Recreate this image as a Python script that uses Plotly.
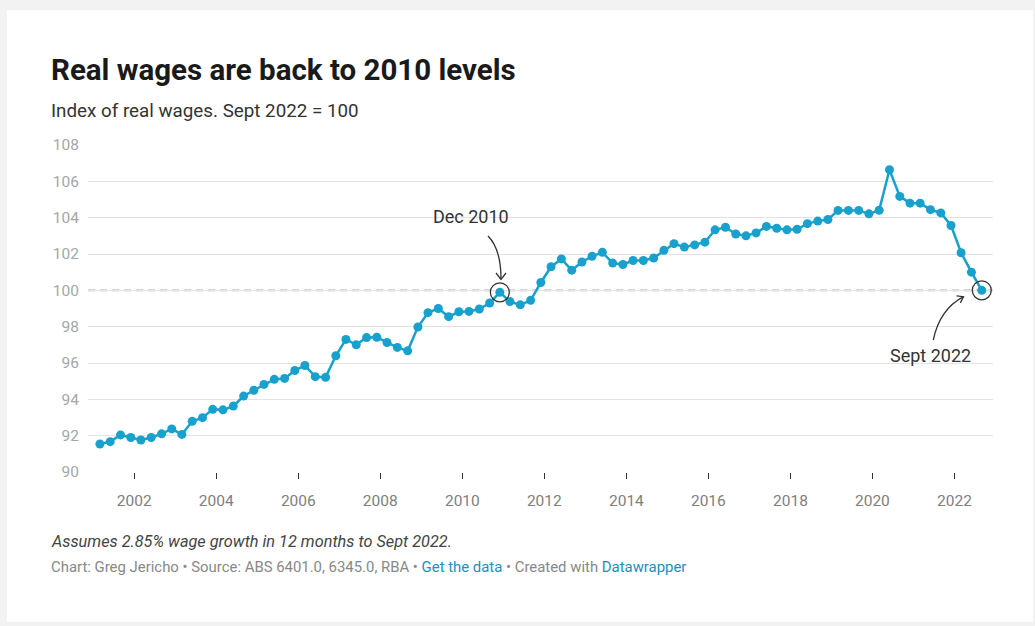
import pandas as pd
import plotly.graph_objects as go

# ---- data ----
quarters = pd.date_range("2001-03-01", "2022-09-01", freq="3MS")  # quarterly, Mar 2001 - Sep 2022
real_wage_index = [
    91.54, 91.67, 92.04, 91.90, 91.76, 91.90, 92.10, 92.37, 92.07, 92.79,
    92.99, 93.45, 93.42, 93.63, 94.18, 94.50, 94.82, 95.10, 95.15, 95.59,
    95.86, 95.25, 95.21, 96.40, 97.30, 97.00, 97.40, 97.42, 97.13, 96.86,
    96.67, 97.98, 98.77, 99.00, 98.55, 98.82, 98.84, 98.97, 99.30, 99.89,
    99.38, 99.20, 99.45, 100.43, 101.30, 101.73, 101.11, 101.56, 101.87, 102.09,
    101.50, 101.42, 101.64, 101.64, 101.78, 102.20, 102.57, 102.38, 102.50, 102.65,
    103.33, 103.47, 103.10, 103.00, 103.16, 103.52, 103.42, 103.33, 103.36, 103.67,
    103.81, 103.90, 104.40, 104.40, 104.40, 104.21, 104.41, 106.64, 105.17, 104.80,
    104.80, 104.44, 104.26, 103.57, 102.07, 101.00, 100.00,
]
highlight_labels = ["Dec 2010", "Sept 2022"]
highlight_idx = [39, 86]
y_ticks = [90, 92, 94, 96, 98, 100, 102, 104, 106, 108]
baseline_value = 100

title = "Real wages are back to 2010 levels"
subtitle = "Index of real wages. Sept 2022 = 100"
note = "Assumes 2.85% wage growth in 12 months to Sept 2022."

# ---- layout geometry (pixels) ----
W, H = 1035, 626
PL, PR, PT, PB = 88, 993, 145, 472  # plot area left/right/top/bottom in px


def px(x, y):
    return (x - PL) / (PR - PL), (PB - y) / (PB - PT)


BLUE = "#18a1cd"
FONT = "Roboto"

fig = go.Figure()

fig.add_trace(go.Scatter(
    x=quarters, y=real_wage_index, mode="lines+markers",
    line=dict(color=BLUE, width=2.5),
    marker=dict(color=BLUE, size=9),
    hoverinfo="skip", showlegend=False,
))

# rings around highlighted points
fig.add_trace(go.Scatter(
    x=[quarters[i] for i in highlight_idx],
    y=[real_wage_index[i] for i in highlight_idx],
    mode="markers",
    marker=dict(symbol="circle-open", size=19, color="#333333", line=dict(width=1.3, color="#333333")),
    hoverinfo="skip", showlegend=False,
))

shapes = []
# white card
cx0, cy0 = px(7, 622)
cx1, cy1 = px(1033, 10)
shapes.append(dict(type="rect", xref="paper", yref="paper", x0=cx0, y0=cy0, x1=cx1, y1=cy1,
                   fillcolor="white", line=dict(width=0), layer="below"))
# dashed reference line
shapes.append(dict(type="line", xref="paper", yref="y", x0=0, x1=1, y0=baseline_value, y1=baseline_value,
                   line=dict(color="#b0b0b0", width=1.6, dash="7px,5px"), layer="below"))


def path_from(points, cmd):
    out = []
    for c, pts in zip(cmd, points):
        coords = " ".join(f"{px(x, y)[0]:.5f},{px(x, y)[1]:.5f}" for x, y in pts)
        out.append(f"{c} {coords}")
    return " ".join(out)


arrow_style = dict(color="#333333", width=1.3)
# Dec 2010 arrow
shapes.append(dict(type="path", xref="paper", yref="paper",
                   path=path_from([[(488, 236)], [(496, 244), (501, 258), (501, 279)]], ["M", "C"]),
                   line=arrow_style))
shapes.append(dict(type="path", xref="paper", yref="paper",
                   path=path_from([[(496, 273)], [(501, 279.5)], [(506, 273)]], ["M", "L", "L"]),
                   line=arrow_style))
# Sept 2022 arrow
shapes.append(dict(type="path", xref="paper", yref="paper",
                   path=path_from([[(933.3, 340)], [(937, 322), (946, 306), (963.5, 296.7)]], ["M", "C"]),
                   line=arrow_style))
shapes.append(dict(type="path", xref="paper", yref="paper",
                   path=path_from([[(956.5, 295.8)], [(963.5, 296.7)], [(960.3, 302.9)]], ["M", "L", "L"]),
                   line=arrow_style))

annotations = []


def add_text(text, x, y, size, color="#333333", xanchor="left", bold=False, italic=False):
    ax, ay = px(x, y)
    t = text
    if bold:
        t = f"<b>{t}</b>"
    if italic:
        t = f"<i>{t}</i>"
    annotations.append(dict(text=t, x=ax, y=ay, xref="paper", yref="paper", xanchor=xanchor,
                            yanchor="middle", showarrow=False,
                            font=dict(family=FONT, size=size, color=color)))


add_text(title, 49, 70, 29.5, color="#1a1a1a", bold=True)
add_text(subtitle, 49, 111, 18.8, color="#333333")
add_text(note, 49, 541, 16.3, color="#444444", italic=True)
add_text("Chart: Greg Jericho • Source: ABS 6401.0, 6345.0, RBA • "
         "<span style='color:#1d8fbb'>Get the data</span> • Created with "
         "<span style='color:#1d8fbb'>Datawrapper</span>", 49, 567, 14.9, color="#888888")
add_text(highlight_labels[0], 471, 216, 18, color="#333333", xanchor="center")
add_text(highlight_labels[1], 930, 355, 18, color="#333333", xanchor="center")

fig.update_layout(
    width=W, height=H,
    margin=dict(l=PL, r=W - PR, t=PT, b=H - PB),
    paper_bgcolor="#f2f2f2",
    plot_bgcolor="rgba(0,0,0,0)",
    font=dict(family=FONT),
    shapes=shapes,
    annotations=annotations,
    xaxis=dict(
        type="date",
        range=["2000-11-15", "2022-12-10"],
        tick0="2002-01-01", dtick="M24", tickformat="%Y",
        showgrid=False, zeroline=False, showline=False,
        ticks="outside", ticklen=6, tickwidth=1, tickcolor="#333333",
        tickfont=dict(family=FONT, size=15.5, color="#808080"),
        ticklabelstandoff=8,
    ),
    yaxis=dict(
        range=[90, 108], tickvals=y_ticks,
        showgrid=True, gridcolor="#e3e3e3", gridwidth=1,
        zeroline=False, showline=False, ticks="",
        tickfont=dict(family=FONT, size=15.5, color="#a6a6a6"),
        ticklabelstandoff=8,
    ),
)

fig.write_html("out.html", config={"displayModeBar": False},
               post_script="document.body.style.margin='0';")
